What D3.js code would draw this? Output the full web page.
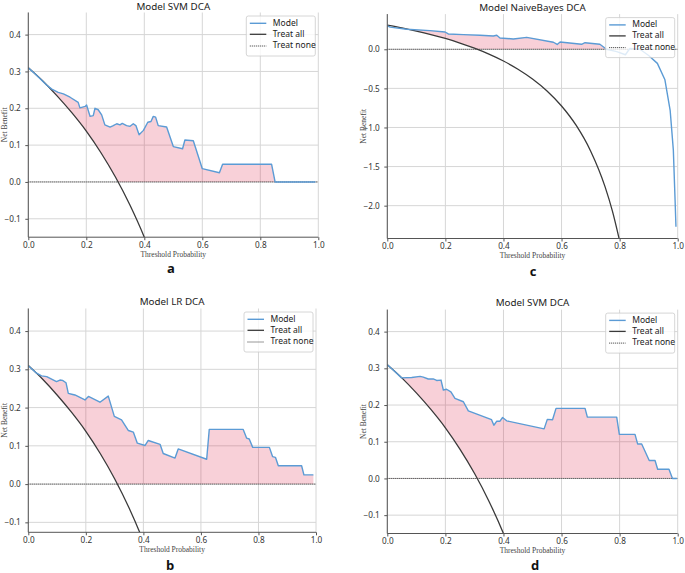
<!DOCTYPE html>
<html><head><meta charset="utf-8">
<script src="https://cdn.jsdelivr.net/npm/d3@7"></script>
<style>
body{margin:0;background:#fff;}
svg{display:block;font-family:"Noto Sans","Open Sans",sans-serif;}
</style></head>
<body><svg id="chart" width="685" height="573"></svg>
<script>
// ---- data ----
const xTicks = [0, 0.2, 0.4, 0.6, 0.8, 1.0];
const yTicksSmall = [-0.1, 0.0, 0.1, 0.2, 0.3, 0.4];
const yTicksNB = [-2.0, -1.5, -1.0, -0.5, 0.0];
const legendLabels = ["Model", "Treat all", "Treat none"];
const panelTitles = ["Model SVM DCA", "Model NaiveBayes DCA", "Model LR DCA", "Model SVM DCA"];
const panelLetters = ["a", "c", "b", "d"];

// Treat all (same prevalence in every panel)
const treatAllPt = [0, 0.05, 0.1, 0.15, 0.2, 0.25, 0.3, 0.35, 0.4, 0.45, 0.5, 0.55, 0.6, 0.65, 0.7, 0.75, 0.775, 0.8];
const treatAllNB = [0.31, 0.274, 0.233, 0.188, 0.138, 0.08, 0.014, -0.062, -0.15, -0.255, -0.38, -0.533, -0.725, -0.971, -1.30, -1.76, -2.067, -2.45];

// Panel a: SVM
const svmAPt = [0, 0.02, 0.04, 0.063, 0.081, 0.103, 0.121, 0.144, 0.172, 0.178, 0.196, 0.201, 0.213, 0.224, 0.23, 0.241, 0.253, 0.264, 0.282, 0.293, 0.305, 0.316, 0.324, 0.339, 0.351, 0.362, 0.371, 0.382, 0.397, 0.412, 0.423, 0.431, 0.439, 0.448, 0.477, 0.5, 0.532, 0.54, 0.569, 0.6, 0.659, 0.67, 0.839, 0.851, 0.99];
const svmANB = [0.31, 0.296, 0.281, 0.263, 0.252, 0.243, 0.239, 0.23, 0.216, 0.201, 0.205, 0.209, 0.178, 0.18, 0.2, 0.196, 0.182, 0.155, 0.149, 0.153, 0.158, 0.155, 0.159, 0.153, 0.151, 0.158, 0.153, 0.128, 0.14, 0.162, 0.164, 0.178, 0.176, 0.153, 0.149, 0.096, 0.09, 0.114, 0.112, 0.036, 0.025, 0.048, 0.048, 0.0, 0.0];

// Panel c: NaiveBayes
const nbPt = [0, 0.01, 0.067, 0.147, 0.199, 0.21, 0.262, 0.319, 0.365, 0.377, 0.388, 0.434, 0.48, 0.572, 0.585, 0.595, 0.669, 0.681, 0.732, 0.755, 0.79, 0.82, 0.835, 0.87, 0.9, 0.93, 0.956, 0.974, 0.985, 0.991, 0.994];
const nbNB = [0.30, 0.283, 0.256, 0.238, 0.221, 0.196, 0.187, 0.179, 0.17, 0.179, 0.145, 0.132, 0.153, 0.09, 0.062, 0.093, 0.064, 0.084, 0.064, 0.0, -0.03, -0.07, 0.01, 0.0, -0.08, -0.18, -0.39, -0.78, -1.29, -1.93, -2.27];

// Panel b: LR
const lrPt = [0, 0.029, 0.046, 0.064, 0.098, 0.11, 0.119, 0.131, 0.139, 0.151, 0.162, 0.197, 0.209, 0.249, 0.278, 0.299, 0.324, 0.348, 0.365, 0.379, 0.406, 0.417, 0.458, 0.469, 0.51, 0.521, 0.62, 0.629, 0.747, 0.759, 0.768, 0.78, 0.838, 0.849, 0.859, 0.869, 0.95, 0.958, 0.991];
const lrNB = [0.309, 0.29, 0.283, 0.281, 0.268, 0.272, 0.271, 0.265, 0.237, 0.235, 0.233, 0.22, 0.229, 0.214, 0.23, 0.177, 0.168, 0.14, 0.136, 0.107, 0.101, 0.114, 0.104, 0.08, 0.068, 0.092, 0.065, 0.143, 0.143, 0.12, 0.118, 0.096, 0.096, 0.072, 0.07, 0.048, 0.048, 0.024, 0.024];

// Panel d: SVM
const svmDPt = [0, 0.025, 0.049, 0.084, 0.113, 0.124, 0.141, 0.158, 0.17, 0.185, 0.193, 0.204, 0.219, 0.233, 0.262, 0.279, 0.359, 0.367, 0.377, 0.388, 0.397, 0.411, 0.54, 0.551, 0.569, 0.581, 0.681, 0.689, 0.79, 0.799, 0.853, 0.862, 0.876, 0.902, 0.922, 0.931, 0.97, 0.982, 0.997];
const svmDNB = [0.31, 0.292, 0.274, 0.275, 0.278, 0.276, 0.271, 0.271, 0.267, 0.268, 0.241, 0.243, 0.236, 0.218, 0.209, 0.184, 0.16, 0.145, 0.156, 0.156, 0.166, 0.157, 0.135, 0.161, 0.16, 0.191, 0.191, 0.167, 0.167, 0.12, 0.12, 0.094, 0.094, 0.049, 0.049, 0.025, 0.025, 0.0, 0.0];

// ---- layout ----
const panels = [
  {title: panelTitles[0], letter: panelLetters[0], pt: svmAPt, nb: svmANB, yTicks: yTicksSmall, box: {l: 28.3, r: 318.3, t: 12.5, b: 237.2}, lx: 171, ly: 273},
  {title: panelTitles[1], letter: panelLetters[1], pt: nbPt, nb: nbNB, yTicks: yTicksNB, box: {l: 387.3, r: 677.7, t: 14.1, b: 238.5}, lx: 533, ly: 276},
  {title: panelTitles[2], letter: panelLetters[2], pt: lrPt, nb: lrNB, yTicks: yTicksSmall, box: {l: 28.3, r: 316, t: 308.5, b: 532.3}, lx: 170, ly: 569.5},
  {title: panelTitles[3], letter: panelLetters[3], pt: svmDPt, nb: svmDNB, yTicks: yTicksSmall, box: {l: 387.3, r: 677.7, t: 309.6, b: 533.5}, lx: 535, ly: 569.5}
];

const svg = d3.select("#chart");
const defs = svg.append("defs");
const MODEL = "#5b9bd5", TA = "#3a3a3a", GRID = "#d6d6d6", SPINE = "#555";
const taData = treatAllPt.map((p, i) => ({p, v: treatAllNB[i]}));

panels.forEach((P, idx) => {
  const B = P.box;
  const data = P.pt.map((p, i) => ({p, v: P.nb[i]}));
  const ext = d3.extent(P.nb);
  const x = d3.scaleLinear().domain([0, 1]).range([B.l, B.r]);
  const y = d3.scaleLinear().domain([ext[0] - 0.15, ext[1] + 0.15]).range([B.b, B.t]);
  const g = svg.append("g");

  defs.append("clipPath").attr("id", "clip" + idx)
    .append("rect").attr("x", B.l).attr("y", B.t).attr("width", B.r - B.l).attr("height", B.b - B.t);

  // grid
  g.append("g").selectAll("line").data(xTicks).join("line")
    .attr("x1", d => x(d)).attr("x2", d => x(d)).attr("y1", B.t).attr("y2", B.b)
    .attr("stroke", GRID).attr("stroke-width", 1);
  g.append("g").selectAll("line").data(P.yTicks).join("line")
    .attr("x1", B.l).attr("x2", B.r).attr("y1", d => y(d)).attr("y2", d => y(d))
    .attr("stroke", GRID).attr("stroke-width", 1);

  // fill between model and max(treat all, 0)
  const mask = defs.append("mask").attr("id", "mask" + idx).attr("maskUnits", "userSpaceOnUse")
    .attr("x", 0).attr("y", 0).attr("width", 685).attr("height", 573);
  mask.append("path").attr("fill", "#fff")
    .attr("d", d3.area().x(d => x(d.p)).y0(y(0)).y1(d => y(d.v))(data));
  mask.append("path").attr("fill", "#000")
    .attr("d", d3.area().curve(d3.curveMonotoneX).x(d => x(d.p)).y0(y(0)).y1(d => y(d.v))(taData));
  mask.append("rect").attr("fill", "#000").attr("x", B.l).attr("y", y(0)).attr("width", B.r - B.l).attr("height", B.b - y(0) + 5);
  g.append("rect").attr("x", B.l).attr("y", B.t).attr("width", B.r - B.l).attr("height", B.b - B.t)
    .attr("fill", "crimson").attr("fill-opacity", 0.2).attr("mask", "url(#mask" + idx + ")");

  const plot = g.append("g").attr("clip-path", "url(#clip" + idx + ")");
  plot.append("line").attr("x1", x(0)).attr("x2", x(1)).attr("y1", y(0)).attr("y2", y(0))
    .attr("stroke", "#333").attr("stroke-width", 1).attr("stroke-dasharray", "1,1");
  plot.append("path").datum(taData)
    .attr("d", d3.line().curve(d3.curveMonotoneX).x(d => x(d.p)).y(d => y(d.v)))
    .attr("fill", "none").attr("stroke", TA).attr("stroke-width", 1.3);
  plot.append("path").datum(data)
    .attr("d", d3.line().x(d => x(d.p)).y(d => y(d.v)))
    .attr("fill", "none").attr("stroke", MODEL).attr("stroke-width", 1.4).attr("stroke-linejoin", "round");

  // axes
  const xa = g.append("g").attr("transform", `translate(0,${B.b})`)
    .call(d3.axisBottom(x).tickValues(xTicks).tickFormat(d3.format(".1f")).tickSize(3).tickPadding(2).tickSizeOuter(0));
  const ya = g.append("g").attr("transform", `translate(${B.l},0)`)
    .call(d3.axisLeft(y).tickValues(P.yTicks).tickFormat(d3.format(".1f")).tickSize(3).tickPadding(4.5).tickSizeOuter(0));
  [xa, ya].forEach(a => {
    a.select(".domain").attr("stroke", SPINE).attr("stroke-width", 1);
    a.selectAll(".tick line").attr("stroke", SPINE);
    a.selectAll(".tick text").attr("fill", "#333").attr("font-size", 8.2).attr("font-family", '"Noto Sans","Open Sans",sans-serif');
  });
  ya.select(".domain").attr("d", `M0,${B.t}V${B.b}`);
  xa.select(".domain").attr("d", `M${B.l},0H${B.r}`);

  // titles & labels
  g.append("text").attr("x", (B.l + B.r) / 2).attr("y", Math.max(B.t - 3.5, 9.5)).attr("text-anchor", "middle")
    .attr("font-size", 9.8).attr("fill", "#222").text(P.title);
  g.append("text").attr("x", (B.l + B.r) / 2).attr("y", B.b + 18).attr("text-anchor", "middle")
    .attr("dominant-baseline", "middle").attr("font-family", '"Liberation Serif","Times New Roman",serif')
    .attr("font-size", 7.5).attr("fill", "#444").text("Threshold Probability");
  g.append("text").attr("transform", `translate(${B.l - 23.5},${(B.t + B.b) / 2}) rotate(-90)`)
    .attr("text-anchor", "middle").attr("dominant-baseline", "middle")
    .attr("font-family", '"Liberation Serif","Times New Roman",serif')
    .attr("font-size", 7.5).attr("fill", "#444").text("Net Benefit");
  g.append("text").attr("x", P.lx).attr("y", P.ly).attr("text-anchor", "middle")
    .attr("font-size", 13).attr("font-weight", 700).attr("font-family", '"Open Sans","Noto Sans",sans-serif')
    .attr("fill", "#111").text(P.letter);

  // legend
  const lw = 69, lh = 40;
  const lg = g.append("g").attr("transform", `translate(${B.r - 3 - lw},${B.t + 3.5})`);
  lg.append("rect").attr("width", lw).attr("height", lh).attr("rx", 2)
    .attr("fill", "#fff").attr("fill-opacity", 0.8).attr("stroke", "#cccccc").attr("stroke-width", 0.8);
  const rows = [7.3, 18.3, 30];
  const styles = [
    {stroke: MODEL, dash: null, w: 1.4},
    {stroke: TA, dash: null, w: 1.3},
    {stroke: "#333", dash: "1,1", w: 1}
  ];
  legendLabels.forEach((lab, i) => {
    lg.append("line").attr("x1", 3.5).attr("x2", 20).attr("y1", rows[i]).attr("y2", rows[i])
      .attr("stroke", styles[i].stroke).attr("stroke-width", styles[i].w)
      .attr("stroke-dasharray", styles[i].dash);
    lg.append("text").attr("x", 26.5).attr("y", rows[i]).attr("dominant-baseline", "middle")
      .attr("font-size", 8.5).attr("fill", "#222").text(lab);
  });
});
</script>
</body></html>
